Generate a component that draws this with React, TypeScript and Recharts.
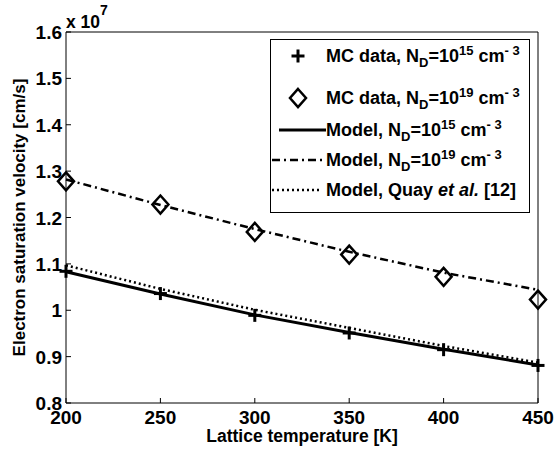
import { ComposedChart, Line, Scatter, XAxis, YAxis, Legend } from 'recharts';

// =============================================================================
// Data (velocities in units of 1e7 cm/s)
// =============================================================================

const temperatures = [200, 250, 300, 350, 400, 450];
const mcData1e15 = [1.084, 1.036, 0.989, 0.951, 0.915, 0.881];
const mcData1e19 = [1.278, 1.228, 1.169, 1.12, 1.072, 1.023];
const model1e15 = [1.083, 1.035, 0.99, 0.952, 0.916, 0.882];
const model1e19 = [1.282, 1.227, 1.175, 1.126, 1.081, 1.044];
const modelQuay = [1.097, 1.046, 1.001, 0.962, 0.923, 0.887];

const xTicks = [200, 250, 300, 350, 400, 450];
const yTicks = [0.8, 0.9, 1, 1.1, 1.2, 1.3, 1.4, 1.5, 1.6];

const chartData = temperatures.map((t, i) => ({
  t,
  mc15: mcData1e15[i],
  mc19: mcData1e19[i],
  model15: model1e15[i],
  model19: model1e19[i],
  quay: modelQuay[i],
}));

// =============================================================================
// Layout / style
// =============================================================================

const FONT = '"Liberation Sans", Arial, Helvetica, sans-serif';
const WIDTH = 554;
const HEIGHT = 458;
// mirrored top/right axes take no room, so the plot box is 66..538 x 32..403
const MARGIN = { top: 32, right: 16, bottom: 10, left: 6 };
const PLOT = { left: 66, top: 32, right: 538, bottom: 403 };
const TICK_LEN = 5;
const DASH_DOT = '8 4 2 4';
const DOTTED = '2 3';

// =============================================================================
// Ticks, markers, labels
// =============================================================================

function BottomTick({ x, payload }: any) {
  return (
    <g>
      <line x1={x} x2={x} y1={PLOT.bottom} y2={PLOT.bottom - TICK_LEN} stroke="#000" />
      <text
        x={x}
        y={PLOT.bottom + 21}
        textAnchor="middle"
        fontFamily={FONT}
        fontWeight="bold"
        fontSize={19}
        fill="#000"
      >
        {payload.value}
      </text>
    </g>
  );
}

function LeftTick({ y, payload }: any) {
  return (
    <g>
      <line x1={PLOT.left} x2={PLOT.left + TICK_LEN} y1={y} y2={y} stroke="#000" />
      <text
        x={PLOT.left - 4}
        y={y}
        dy={7}
        textAnchor="end"
        fontFamily={FONT}
        fontWeight="bold"
        fontSize={19}
        fill="#000"
      >
        {String(payload.value)}
      </text>
    </g>
  );
}

function PlusMarker({ cx, cy }: any) {
  const h = 6.5;
  return (
    <g stroke="#000" strokeWidth={3}>
      <line x1={cx - h} x2={cx + h} y1={cy} y2={cy} />
      <line x1={cx} x2={cx} y1={cy - h} y2={cy + h} />
    </g>
  );
}

function DiamondMarker({ cx, cy }: any) {
  const w = 8;
  const h = 9;
  return (
    <path
      d={`M${cx},${cy - h} L${cx + w},${cy} L${cx},${cy + h} L${cx - w},${cy} Z`}
      fill="none"
      stroke="#000"
      strokeWidth={2.5}
    />
  );
}

const textStyle = { fontFamily: FONT, fontWeight: 'bold' as const, fill: '#000' };

function XTitle({ viewBox }: any) {
  const cx = viewBox.x + viewBox.width / 2;
  return (
    <text x={cx} y={442} textAnchor="middle" fontSize={17.5} {...textStyle}>
      Lattice temperature [K]
    </text>
  );
}

function YTitle({ viewBox }: any) {
  const cy = viewBox.y + viewBox.height / 2;
  return (
    <text x={25} y={cy} transform={`rotate(-90, 25, ${cy})`} textAnchor="middle" fontSize={17} {...textStyle}>
      Electron saturation velocity [cm/s]
    </text>
  );
}

function ExponentLabel() {
  return (
    <text x={66} y={28} fontSize={17.5} {...textStyle}>
      x 10
      <tspan fontSize={14} dy={-13}>
        7
      </tspan>
    </text>
  );
}

// =============================================================================
// Legend
// =============================================================================

const legendSymbols = ['plus', 'diamond', 'solid', 'dashdot', 'dotted'];
const legendPrefixes = ['MC data, ', 'MC data, ', 'Model, ', 'Model, ', 'Model, Quay '];
const legendExponents = ['15', '19', '15', '19', ''];
const legendRowCenters = [16, 58, 90, 120, 150];

const subStyle = { fontSize: 13, verticalAlign: '-5px', lineHeight: 0 };
const supStyle = { fontSize: 13, verticalAlign: '7px', lineHeight: 0 };

function LegendSymbol({ kind }: { kind: string }) {
  return (
    <svg width={56} height={24} style={{ position: 'absolute', left: 0, top: 0 }}>
      {kind === 'plus' && <PlusMarker cx={27} cy={12} />}
      {kind === 'diamond' && <DiamondMarker cx={27} cy={12} />}
      {kind === 'solid' && <line x1={8} x2={55} y1={12} y2={12} stroke="#000" strokeWidth={3} />}
      {kind === 'dashdot' && (
        <line x1={1} x2={55} y1={12} y2={12} stroke="#000" strokeWidth={2.5} strokeDasharray={DASH_DOT} />
      )}
      {kind === 'dotted' && (
        <line x1={1} x2={50} y1={12} y2={12} stroke="#000" strokeWidth={2.5} strokeDasharray={DOTTED} />
      )}
    </svg>
  );
}

function renderLegend() {
  return (
    <div
      style={{
        position: 'relative',
        width: 260,
        height: 174,
        boxSizing: 'border-box',
        border: '1.5px solid #000',
        background: '#fff',
        fontFamily: FONT,
        fontWeight: 'bold',
        fontSize: 18,
        color: '#000',
      }}
    >
      {legendSymbols.map((kind, i) => (
        <div
          key={kind}
          style={{
            position: 'absolute',
            left: 0,
            top: legendRowCenters[i] - 12,
            height: 24,
            width: 258,
            lineHeight: '24px',
            whiteSpace: 'nowrap',
          }}
        >
          <LegendSymbol kind={kind} />
          <span style={{ position: 'absolute', left: 55, top: 0 }}>
            {legendPrefixes[i]}
            {legendExponents[i] ? (
              <>
                N<span style={subStyle}>D</span>=10<span style={supStyle}>{legendExponents[i]}</span> cm
                <span style={supStyle}>- 3</span>
              </>
            ) : (
              <>
                <i>et al.</i> [12]
              </>
            )}
          </span>
        </div>
      ))}
    </div>
  );
}

// =============================================================================
// Chart
// =============================================================================

export default function App() {
  return (
    <div style={{ position: 'absolute', left: 0, top: 0, width: WIDTH, height: HEIGHT, background: '#fff' }}>
      <ComposedChart width={WIDTH} height={HEIGHT} data={chartData} margin={MARGIN}>
        <XAxis
          dataKey="t"
          type="number"
          domain={[200, 450]}
          ticks={xTicks}
          tick={<BottomTick />}
          tickLine={false}
          tickSize={0}
          height={45}
          axisLine={{ stroke: '#000' }}
          label={XTitle}
        />
        <XAxis
          xAxisId="top"
          orientation="top"
          type="number"
          domain={[200, 450]}
          ticks={xTicks}
          mirror
          tick={false}
          tickSize={TICK_LEN}
          tickLine={{ stroke: '#000' }}
          axisLine={{ stroke: '#000' }}
          height={1}
          label={ExponentLabel}
        />
        <YAxis
          type="number"
          domain={[0.8, 1.6]}
          ticks={yTicks}
          tick={<LeftTick />}
          tickLine={false}
          tickSize={0}
          width={60}
          axisLine={{ stroke: '#000' }}
          label={YTitle}
        />
        <YAxis
          yAxisId="right"
          orientation="right"
          type="number"
          domain={[0.8, 1.6]}
          ticks={yTicks}
          mirror
          tick={false}
          tickSize={TICK_LEN}
          tickLine={{ stroke: '#000' }}
          axisLine={{ stroke: '#000' }}
          width={1}
        />
        <Legend
          layout="vertical"
          align="center"
          verticalAlign="middle"
          content={renderLegend}
          wrapperStyle={{ left: 270, top: 39, width: 260, height: 174, margin: 0 }}
        />
        <Line
          dataKey="model15"
          type="linear"
          stroke="#000"
          strokeWidth={3}
          dot={false}
          activeDot={false}
          isAnimationActive={false}
        />
        <Line
          dataKey="model19"
          type="linear"
          stroke="#000"
          strokeWidth={2.5}
          strokeDasharray={DASH_DOT}
          dot={false}
          activeDot={false}
          isAnimationActive={false}
        />
        <Line
          dataKey="quay"
          type="linear"
          stroke="#000"
          strokeWidth={2.5}
          strokeDasharray={DOTTED}
          dot={false}
          activeDot={false}
          isAnimationActive={false}
        />
        <Scatter dataKey="mc15" shape={PlusMarker} isAnimationActive={false} />
        <Scatter dataKey="mc19" shape={DiamondMarker} isAnimationActive={false} />
      </ComposedChart>
    </div>
  );
}
